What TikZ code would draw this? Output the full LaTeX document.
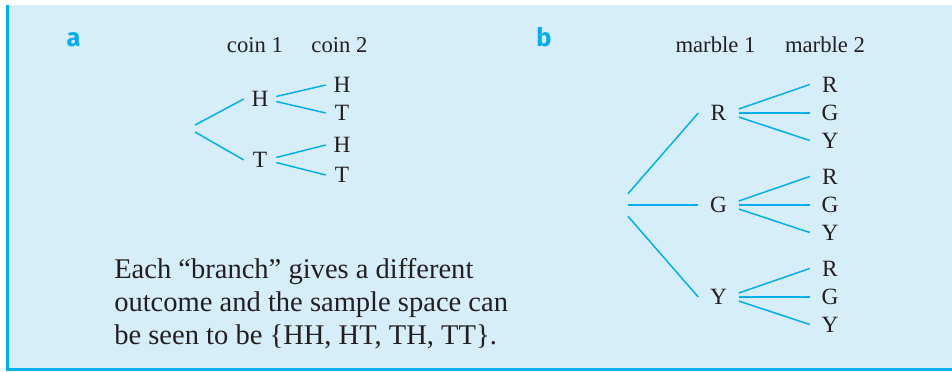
\documentclass[tikz,border=0pt]{standalone}
\usepackage{fontspec}
\setmainfont{Liberation Serif}
\setsansfont{Fira Sans}
\usepackage{xcolor}
\usepackage{tikz}
\usetikzlibrary{positioning,calc}
\definecolor{pbfill}{RGB}{214,237,250}
\definecolor{pbcyan}{RGB}{0,174,239}
\definecolor{pbink}{RGB}{35,31,32}

\begin{document}
\begin{tikzpicture}[
  x=0.75pt, y=-0.75pt,
  part/.style={text=pbcyan, font=\sffamily\bfseries\fontsize{19}{19}\selectfont, inner sep=0pt},
  hdr/.style={text=pbink, font=\fontsize{17}{18}\selectfont, inner sep=0pt},
  lvla/.style={text=pbink, font=\fontsize{17.5}{18}\selectfont, inner sep=0pt, minimum width=24pt},
  lvlb/.style={text=pbink, font=\fontsize{17.5}{18}\selectfont, inner sep=0pt, minimum width=30pt},
  branch/.style={draw=pbcyan, line width=1.1pt}
]
\useasboundingbox (0,0) rectangle (952,371);
\fill[pbfill] (7,5) rectangle (952,369);
\draw[pbcyan, line width=2.2pt] (7.5,5) -- (7.5,369.5) -- (952,369.5);

% part a: two coins
\node[part, anchor=base] (parta) at (73.5,46) {a};
\node[hdr, anchor=base] (coin1) at (255,52) {coin 1};
\node[hdr, anchor=base] (coin2) at (339.5,52) {coin 2};

\coordinate (roota) at (195,128.5);
\node[lvla] (h1) at (260,99)  {H};
\node[lvla] (t1) at (260,160) {T};
\node[lvla] (hh) at (342,85)  {H};
\node[lvla] (ht) at (342,113) {T};
\node[lvla] (th) at (342,145) {H};
\node[lvla] (tt) at (342,175) {T};

\draw[branch] ([yshift=2.6pt]roota) -- (h1.west);
\draw[branch] ([yshift=-2.6pt]roota) -- (t1.west);
\draw[branch] ([yshift=1.9pt]h1.east) -- (hh.west);
\draw[branch] ([yshift=-1.9pt]h1.east) -- (ht.west);
\draw[branch] ([yshift=1.9pt]t1.east) -- (th.west);
\draw[branch] ([yshift=-1.9pt]t1.east) -- (tt.west);

\node[text=pbink, anchor=north west, inner sep=0pt, align=left,
      font=\fontsize{21.4}{24.75}\selectfont] (note) at (114,258)
  {Each “branch” gives a different\\
   outcome and the sample space can\\
   be seen to be \{HH, HT, TH, TT\}.};

% part b: two marbles
\node[part, anchor=base] (partb) at (544,46) {b};
\node[hdr, anchor=base] (marble1) at (715.5,52) {marble 1};
\node[hdr, anchor=base] (marble2) at (825,52) {marble 2};

\coordinate (rootb) at (628,205);
\node[lvlb] (m1r) at (718.5,113) {R};
\node[lvlb] (m1g) at (718.5,205) {G};
\node[lvlb] (m1y) at (718.5,297) {Y};

\draw[branch] ([yshift=8.5pt]rootb) -- (m1r.west);
\draw[branch] (rootb) -- (m1g.west);
\draw[branch] ([yshift=-8.5pt]rootb) -- (m1y.west);

\foreach \first/\ya in {r/113, g/205, y/297} {
  \node[lvlb] (m2\first r) at (830,\ya-28.5) {R};
  \node[lvlb] (m2\first g) at (830,\ya)      {G};
  \node[lvlb] (m2\first y) at (830,\ya+27.5) {Y};
  \draw[branch] ([yshift=3pt]m1\first.east) -- (m2\first r.west);
  \draw[branch] (m1\first.east) -- (m2\first g.west);
  \draw[branch] ([yshift=-3pt]m1\first.east) -- (m2\first y.west);
}
\end{tikzpicture}
\end{document}
